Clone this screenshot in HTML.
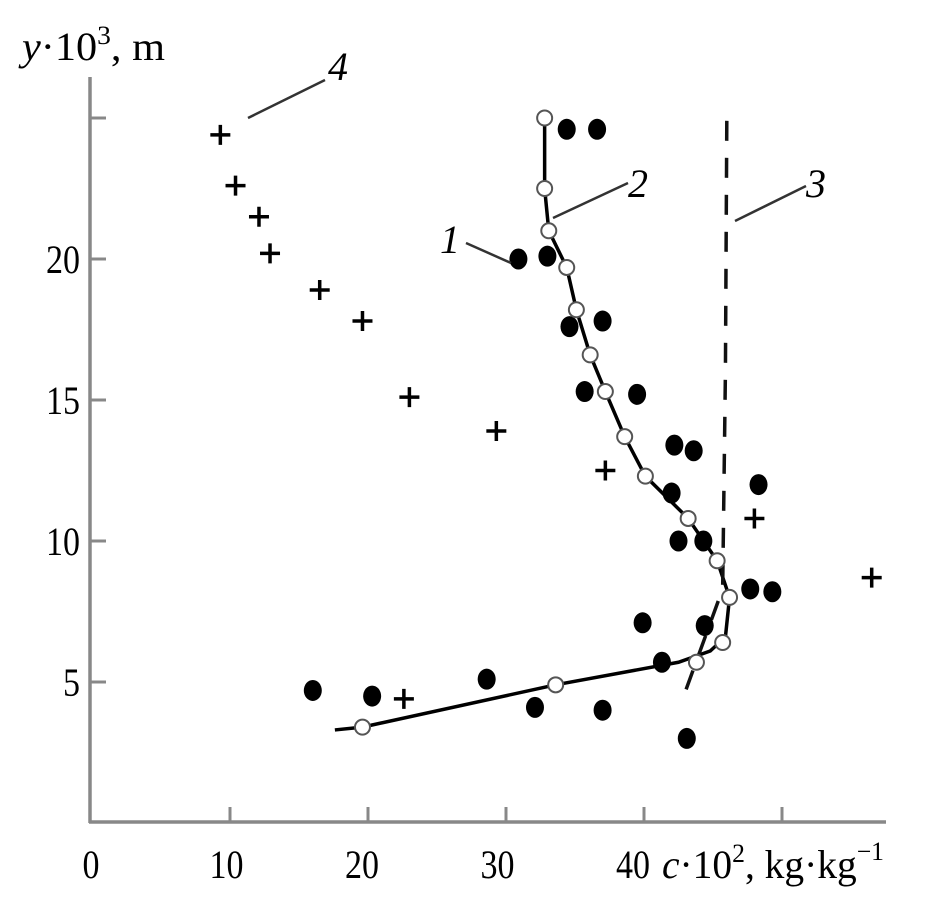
<!DOCTYPE html>
<html><head><meta charset="utf-8"><style>
html,body{margin:0;padding:0;background:#fff;}
svg{display:block;font-family:"Liberation Serif",serif;}
</style></head><body>
<svg id="chart" width="944" height="905" viewBox="0 0 944 905">
<g id="axes"></g>
<g id="marks"></g>
<g id="labels">
  <text x="22" y="60" font-size="40" textLength="143" lengthAdjust="spacingAndGlyphs"><tspan font-style="italic">y</tspan>·10<tspan dy="-16" font-size="26">3</tspan><tspan dy="16">, m</tspan></text>
  <text x="662" y="878" font-size="40" textLength="222" lengthAdjust="spacingAndGlyphs"><tspan font-style="italic">c</tspan>·10<tspan dy="-16" font-size="26">2</tspan><tspan dy="16">, kg·kg</tspan><tspan dy="-18" font-size="26">−1</tspan></text>
  <line x1="248" y1="118" x2="325" y2="80" stroke="#333" stroke-width="2.5"/>
  <text x="328" y="80" font-size="40" font-style="italic">4</text>
  <line x1="553" y1="218" x2="628" y2="183" stroke="#333" stroke-width="2.5"/>
  <text x="628" y="197" font-size="40" font-style="italic">2</text>
  <line x1="735" y1="221" x2="806" y2="186" stroke="#333" stroke-width="2.5"/>
  <text x="806" y="197" font-size="40" font-style="italic">3</text>
  <line x1="466" y1="243" x2="511" y2="263" stroke="#333" stroke-width="2.5"/>
  <text x="440" y="253" font-size="40" font-style="italic">1</text>
</g>
</svg>
<script>
const xTicks=[0,10,20,30,40,50];
const xTickLabels=["0","10","20","30","40",""];
const yTicks=[5,10,15,20,25];
const yTickLabels=["5","10","15","20",""];
// series 1: filled circles
const s1x=[34.4,36.6,30.9,33.0,34.6,37.0,35.7,39.5,42.2,43.6,42.0,48.3,42.5,44.3,47.7,49.3,39.9,44.4,41.3,16.0,20.3,28.6,32.1,37.0,43.1];
const s1y=[24.6,24.6,20.0,20.1,17.6,17.8,15.3,15.2,13.4,13.2,11.7,12.0,10.0,10.0,8.3,8.2,7.1,7.0,5.7,4.7,4.5,5.1,4.1,4.0,3.0];
// series 2: open circles
const s2x=[32.8,32.8,33.1,34.4,35.1,36.1,37.2,38.6,40.1,43.2,45.3,46.2,45.7,43.8,33.6,19.6];
const s2y=[25.0,22.5,21.0,19.7,18.2,16.6,15.3,13.7,12.3,10.8,9.3,8.0,6.4,5.7,4.9,3.4];
// solid curve through series 2
const lineX=[32.8,32.8,33.1,34.4,35.1,36.1,37.2,38.6,40.1,43.2,45.3,46.2,45.9,44.8,42.5,33.6,19.6,17.6];
const lineY=[25.0,22.5,21.0,19.7,18.2,16.6,15.3,13.7,12.3,10.8,9.3,8.0,6.6,6.1,5.7,4.9,3.4,3.3];
// series 3: dashed
const s3x=[46.0,45.9,45.7,42.8];
const s3y=[24.9,16.0,8.3,4.4];
// series 4: crosses
const s4x=[9.3,10.4,12.1,12.9,16.5,19.6,23.0,29.3,37.2,48.0,56.5,22.6];
const s4y=[24.4,22.6,21.5,20.2,18.9,17.8,15.1,13.9,12.5,10.8,8.7,4.4];

const X=v=>92+13.8*v;
const Y=v=>823-28.2*v;
const NS="http://www.w3.org/2000/svg";
function mk(tag,parent,attrs){const e=document.createElementNS(NS,tag);for(const k in attrs)e.setAttribute(k,attrs[k]);parent.appendChild(e);return e;}
const axes=document.getElementById('axes'),marks=document.getElementById('marks');
let a=mk('line',axes,{x1:90,y1:77,x2:90,y2:823,stroke:'#888',"stroke-width":3.5});


a=mk('line',axes,{x1:89,y1:822,x2:886,y2:822,stroke:'#888',"stroke-width":3.5});


xTicks.forEach((v,i)=>{
  if(v>0){const t=mk('line',axes,{x1:X(v),y1:807,x2:X(v),y2:822,stroke:'#888',"stroke-width":3});
  
  }
  if(xTickLabels[i]){const l=mk('text',axes,{x:X(v)-1-v*0.25,y:878,"font-size":40,"text-anchor":"middle",textLength:17*xTickLabels[i].length,lengthAdjust:"spacingAndGlyphs"});l.textContent=xTickLabels[i];
  
  }
});
yTicks.forEach((v,i)=>{
  const t=mk('line',axes,{x1:90,y1:Y(v),x2:106,y2:Y(v),stroke:'#888',"stroke-width":3});
  
  
  if(yTickLabels[i]){const l=mk('text',axes,{x:80,y:Y(v)+14,"font-size":40,"text-anchor":"end",textLength:17*yTickLabels[i].length,lengthAdjust:"spacingAndGlyphs"});l.textContent=yTickLabels[i];
  
  }
});
let p=mk('polyline',marks,{points:lineX.map((v,i)=>X(v)+','+Y(lineY[i])).join(' '),fill:'none',stroke:'#000',"stroke-width":3.5});


p=mk('polyline',marks,{points:s3x.map((v,i)=>X(v)+','+Y(s3y[i])).join(' '),fill:'none',stroke:'#111',"stroke-width":3.5,"stroke-dasharray":"20 17"});


s1x.forEach((v,i)=>{const c=mk('ellipse',marks,{cx:X(v),cy:Y(s1y[i]),rx:9,ry:10.5,fill:'#000'});

});
s2x.forEach((v,i)=>{const c=mk('circle',marks,{cx:X(v),cy:Y(s2y[i]),r:7.5,fill:'#fff',stroke:'#555',"stroke-width":2});

});
s4x.forEach((v,i)=>{const cx=X(v),cy=Y(s4y[i]);
const c=mk('path',marks,{d:`M${cx-10},${cy}H${cx+10}M${cx},${cy-10}V${cy+10}`,stroke:'#000',"stroke-width":3.5});

});
</script>
</body></html>
